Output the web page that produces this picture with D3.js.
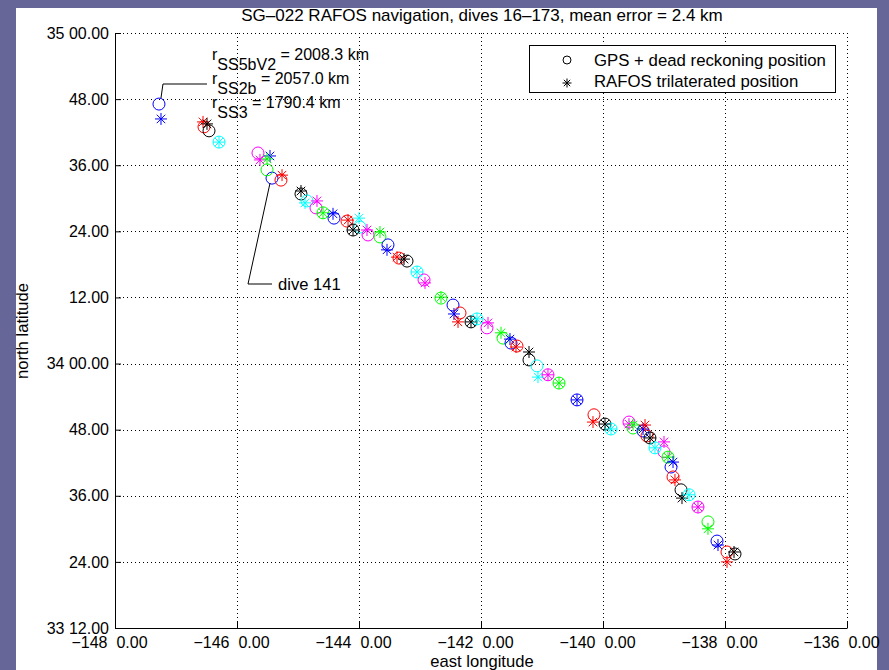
<!DOCTYPE html>
<html>
<head>
<meta charset="utf-8">
<script src="https://cdn.jsdelivr.net/npm/d3@7/dist/d3.min.js"></script>
<style>
  html, body { margin: 0; padding: 0; background: #666699; }
  svg { display: block; }
  text { font-family: "Liberation Sans", Arial, Helvetica, sans-serif; fill: #000; }
</style>
</head>
<body>
<svg id="chart" width="889" height="670"></svg>
<script>
// ---------------- data ----------------
const titleText = "SG\u2013022 RAFOS navigation, dives 16\u2013173, mean error = 2.4 km";
const xLabelText = "east longitude";
const yLabelText = "north latitude";

// dive colour codes (MATLAB letters), one per plotted dive
const diveColors = ["b","r","k","c","m","b","g","r","k","c","m","g","b","r","c","k","m","g","b","r","k","c","m","g","b","r","k","c","m","g","b","r","k","c","m","g","b","r","k","c","m","g","b","r","k","m","c","g","b","r","k","c","m","g","b","r","k"];

// GPS + dead reckoning positions (decimal degrees)
const gpsLon = [-147.279,-146.541,-146.459,-146.295,-145.656,-145.426,-145.508,-145.279,-144.951,-144.852,-144.705,-144.590,-144.410,-144.197,-143.984,-144.098,-143.852,-143.656,-143.525,-143.344,-143.213,-143.049,-142.934,-142.656,-142.459,-142.344,-142.164,-142.066,-141.902,-141.639,-141.508,-141.410,-141.213,-141.082,-140.902,-140.721,-140.426,-140.148,-139.967,-139.869,-139.574,-139.508,-139.344,-139.279,-139.230,-139.000,-139.148,-138.934,-138.885,-138.852,-138.721,-138.590,-138.443,-138.279,-138.131,-137.967,-137.836];
const gpsLat = [34.785,34.716,34.704,34.670,34.637,34.561,34.586,34.555,34.513,34.492,34.471,34.456,34.440,34.431,34.413,34.404,34.389,34.383,34.359,34.319,34.310,34.277,34.253,34.198,34.177,34.153,34.126,34.135,34.108,34.077,34.062,34.053,34.011,33.993,33.966,33.941,33.890,33.845,33.817,33.802,33.823,33.805,33.796,33.781,33.775,33.733,33.745,33.717,33.687,33.657,33.618,33.603,33.566,33.521,33.463,33.430,33.424];

// RAFOS trilaterated positions (decimal degrees)
const rafLon = [-147.246,-146.557,-146.492,-146.295,-145.623,-145.459,-145.508,-145.262,-144.951,-144.885,-144.689,-144.590,-144.426,-144.180,-144.000,-144.098,-143.869,-143.656,-143.541,-143.377,-143.262,-143.049,-142.918,-142.656,-142.443,-142.377,-142.164,-142.066,-141.885,-141.672,-141.525,-141.426,-141.213,-141.066,-140.902,-140.721,-140.426,-140.164,-139.967,-139.869,-139.574,-139.508,-139.344,-139.311,-139.230,-139.000,-139.148,-138.934,-138.852,-138.820,-138.705,-138.590,-138.443,-138.279,-138.115,-137.967,-137.852];
const rafLat = [34.740,34.731,34.725,34.670,34.616,34.628,34.619,34.570,34.522,34.486,34.492,34.456,34.453,34.434,34.440,34.404,34.404,34.398,34.344,34.322,34.316,34.277,34.244,34.201,34.150,34.126,34.126,34.135,34.123,34.093,34.074,34.050,34.035,33.959,33.966,33.941,33.890,33.823,33.817,33.802,33.817,33.814,33.802,33.814,33.775,33.763,33.745,33.717,33.702,33.648,33.593,33.603,33.566,33.500,33.451,33.400,33.430];

// axis ticks
const lonTicks = [-148,-146,-144,-142,-140,-138,-136];
const lonTickLabels = ["\u2212148  0.00","\u2212146  0.00","\u2212144  0.00","\u2212142  0.00","\u2212140  0.00","\u2212138  0.00","\u2212136  0.00"];
const latTicks = [33.2,33.4,33.6,33.8,34.0,34.2,34.4,34.6,34.8,35.0];
const latTickLabels = ["33 12.00","24.00","36.00","48.00","34 00.00","12.00","24.00","36.00","48.00","35 00.00"];

// annotations
const rangeNames = ["SS5bV2","SS2b","SS3"];
const rangeValues = ["2008.3 km","2057.0 km","1790.4 km"];
const diveNote = "dive 141";
const diveNoteIndex = 5;
const legendLabels = ["GPS + dead reckoning position","RAFOS trilaterated position"];

// ---------------- drawing ----------------
const palette = {b:"#0000ff", g:"#00ff00", r:"#ff0000", c:"#00ffff", m:"#ff00ff", k:"#000000"};
const svg = d3.select("#chart");
svg.append("rect").attr("x",0).attr("y",0).attr("width",889).attr("height",670).attr("fill","#666699");
svg.append("rect").attr("x",16).attr("y",8).attr("width",861).attr("height",662).attr("fill","#ffffff");

const L = 115, R = 847, T = 33, B = 628;
const x = d3.scaleLinear().domain([-148,-136]).range([L,R]);
const y = d3.scaleLinear().domain([33.2,35.0]).range([B,T]);

// grid (dotted)
const grid = svg.append("g").attr("stroke","#000").attr("stroke-width",1).attr("stroke-dasharray","1,3").attr("shape-rendering","crispEdges");
lonTicks.forEach(v => { if (v !== -148) grid.append("line").attr("x1",Math.round(x(v))+0.5).attr("x2",Math.round(x(v))+0.5).attr("y1",T).attr("y2",B); });
latTicks.forEach(v => { if (Math.abs(v-33.2) > 1e-6) grid.append("line").attr("y1",Math.round(y(v))+0.5).attr("y2",Math.round(y(v))+0.5).attr("x1",L).attr("x2",R); });

// axes
const xAxis = d3.axisBottom(x).tickValues(lonTicks).tickSizeInner(-6).tickSizeOuter(0).tickPadding(10)
  .tickFormat((d,i) => lonTickLabels[i]);
const yAxis = d3.axisLeft(y).tickValues(latTicks).tickSizeInner(-6).tickSizeOuter(0).tickPadding(12)
  .tickFormat((d,i) => latTickLabels[i]);
const gx = svg.append("g").attr("transform",`translate(0,${B})`).call(xAxis);
const gy = svg.append("g").attr("transform",`translate(${L},0)`).call(yAxis);
[gx,gy].forEach(g => {
  g.select(".domain").attr("stroke","#000").attr("stroke-width",1);
  g.selectAll(".tick line").attr("stroke","#000");
  g.selectAll("text").attr("font-size",16).attr("font-family","Liberation Sans, Arial, sans-serif").attr("fill","#000");
});
gx.selectAll("text").attr("xml:space","preserve").attr("dx",-6).attr("y",9).attr("dy","0.71em");
gy.selectAll("text").attr("x",-6);

// markers
const starPath = (s) => {
  const d = s*0.7071;
  return `M${-s},0L${s},0M0,${-s}L0,${s}M${-d},${-d}L${d},${d}M${-d},${d}L${d},${-d}`;
};
const marks = svg.append("g").attr("fill","none").attr("stroke-width",1);
marks.selectAll("circle.gps").data(d3.range(gpsLon.length)).join("circle")
  .attr("class","gps").attr("cx",i => x(gpsLon[i])).attr("cy",i => y(gpsLat[i])).attr("r",6)
  .attr("stroke",i => palette[diveColors[i]]);
marks.selectAll("path.raf").data(d3.range(rafLon.length)).join("path")
  .attr("class","raf").attr("transform",i => `translate(${x(rafLon[i])},${y(rafLat[i])})`)
  .attr("d",starPath(6)).attr("stroke",i => palette[diveColors[i]]);

// title and axis labels
svg.append("text").attr("x",482).attr("y",21).attr("text-anchor","middle").attr("font-size",17).text(titleText);
svg.append("text").attr("x",482).attr("y",667).attr("text-anchor","middle").attr("font-size",16.6).text(xLabelText);
svg.append("text").attr("transform","translate(28,331) rotate(-90)").attr("text-anchor","middle").attr("font-size",16.6).text(yLabelText);

// range annotations
const ann = svg.append("g");
const baseY = [60, 84, 108];
rangeNames.forEach((nm,i) => {
  const t = ann.append("text").attr("x",212).attr("y",baseY[i]).attr("font-size",16);
  t.append("tspan").text("r");
  t.append("tspan").attr("dy",10).text(nm);
  t.append("tspan").attr("dy",-10).text(" = " + rangeValues[i]);
});
// leader line from first point
const p0x = x(gpsLon[0]), p0y = y(gpsLat[0]);
ann.append("path").attr("fill","none").attr("stroke","#000").attr("stroke-width",1)
  .attr("d",`M${p0x+2},${p0y-6}L${p0x+4},84L207,84`);

// dive 141 annotation
const dx = x(gpsLon[diveNoteIndex]), dy = y(gpsLat[diveNoteIndex]);
ann.append("path").attr("fill","none").attr("stroke","#000").attr("stroke-width",1)
  .attr("d",`M${dx-2},${dy+5}L248,284L272,284`);
ann.append("text").attr("x",278).attr("y",290).attr("font-size",16.6).text(diveNote);

// legend
const lg = svg.append("g");
lg.append("rect").attr("x",529.5).attr("y",45.5).attr("width",306).attr("height",47).attr("fill","#fff").attr("stroke","#000");
lg.append("circle").attr("cx",567).attr("cy",60).attr("r",4).attr("fill","none").attr("stroke","#000");
lg.append("path").attr("transform","translate(567,83)").attr("d",starPath(4.5)).attr("stroke","#000").attr("fill","none");
lg.append("text").attr("x",594).attr("y",66).attr("font-size",16.8).text(legendLabels[0]);
lg.append("text").attr("x",594).attr("y",87).attr("font-size",16.8).text(legendLabels[1]);
</script>
</body>
</html>
